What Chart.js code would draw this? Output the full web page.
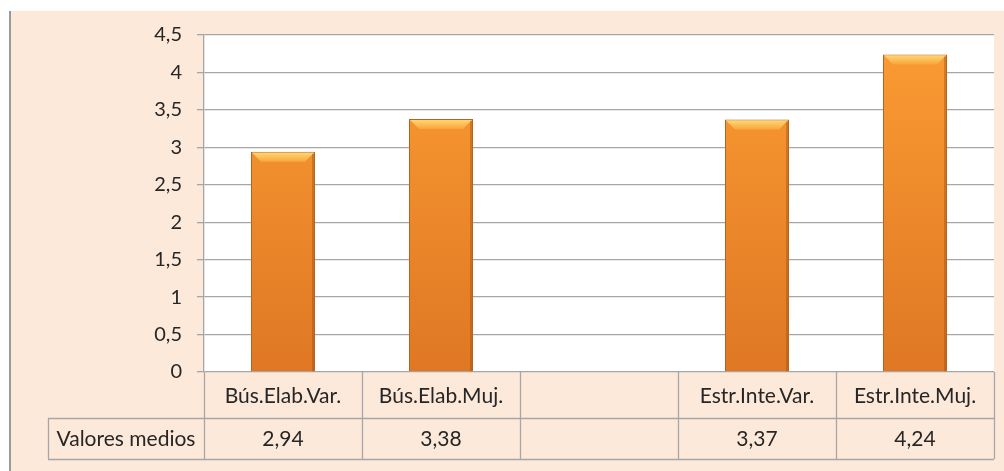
<!DOCTYPE html>
<html>
<head>
<meta charset="utf-8">
<script src="https://cdn.jsdelivr.net/npm/chart.js@4/dist/chart.umd.min.js"></script>
<style>
  html, body { margin: 0; padding: 0; background: #fff; }
  #wrap { width: 1004px; height: 471px; position: relative; }
</style>
</head>
<body>
<div id="wrap"><canvas id="chart" width="1004" height="471"></canvas></div>
<script>
    // datos
    var categorias = ['Bús.Elab.Var.', 'Bús.Elab.Muj.', '', 'Estr.Inte.Var.', 'Estr.Inte.Muj.'];
    var valoresMedios = [2.94, 3.38, null, 3.37, 4.24];
    var nombreSerie = 'Valores medios';
    var yTicks = [0, 0.5, 1, 1.5, 2, 2.5, 3, 3.5, 4, 4.5];

    var FONT = 'Lato, "Open Sans", sans-serif';
    var PEACH = '#FDE9DA';
    var LINE = '#A6A6A6';

    function coma(v, dec) {
        var s = dec === undefined ? String(v) : v.toFixed(dec);
        return s.replace('.', ',');
    }

    function barFill(ctx) {
        var chart = ctx.chart;
        var area = chart.chartArea;
        if (!area) {
            return '#F7962F';
        }
        var g = chart.ctx.createLinearGradient(0, area.top, 0, area.bottom);
        g.addColorStop(0, '#FB9C33');
        g.addColorStop(1, '#DF7724');
        return g;
    }

    // fondo, marco y tabla de datos
    var decoPlugin = {
        id: 'deco',
        beforeDraw: function (chart) {
            var c = chart.ctx;
            var a = chart.chartArea;
            c.save();
            c.fillStyle = '#fff';
            c.fillRect(0, 0, chart.width, chart.height);
            c.fillStyle = PEACH;
            c.fillRect(10, 11, chart.width - 10, chart.height - 11);
            c.fillStyle = '#9a9a9a';
            c.fillRect(9, 11, 2, chart.height - 11);
            c.fillStyle = '#fff';
            c.fillRect(a.left, a.top, a.right - a.left, a.bottom - a.top);
            c.restore();
        },
        afterDatasetsDraw: function (chart) {
            // bisel superior de las barras
            var c = chart.ctx;
            var meta = chart.getDatasetMeta(0);
            c.save();
            meta.data.forEach(function (bar, i) {
                if (valoresMedios[i] == null) {
                    return;
                }
                var half = bar.width / 2;
                var l = bar.x - half, r = bar.x + half, t = bar.y, b = bar.base;
                var bv = 10;
                var g = c.createLinearGradient(0, t, 0, t + bv);
                g.addColorStop(0, '#FFDD77');
                g.addColorStop(1, '#FBA43B');
                c.fillStyle = g;
                c.beginPath();
                c.moveTo(l + 1, t + 1);
                c.lineTo(r - 1, t + 1);
                c.lineTo(r - bv, t + bv);
                c.lineTo(l + bv, t + bv);
                c.closePath();
                c.fill();
                c.fillStyle = 'rgba(140,70,10,0.35)';
                c.fillRect(r - 3, t + 2, 2, b - t - 2);
            });
            c.restore();
        },
        afterDraw: function (chart) {
            var c = chart.ctx;
            var a = chart.chartArea;
            var x = chart.scales.x;
            var n = categorias.length;
            var step = (a.right - a.left) / n;
            var row1 = a.bottom + 46;
            var row2 = a.bottom + 87;
            var labelLeft = 48;

            c.save();
            c.strokeStyle = LINE;
            c.lineWidth = 1.3;
            c.beginPath();
            // líneas horizontales
            c.moveTo(labelLeft, row1 + 0.5);
            c.lineTo(a.right, row1 + 0.5);
            c.moveTo(labelLeft, row2 + 0.5);
            c.lineTo(a.right, row2 + 0.5);
            // verticales
            for (var i = 0; i <= n; i++) {
                var px = Math.round(a.left + step * i) + 0.5;
                c.moveTo(px, a.bottom);
                c.lineTo(px, row2);
            }
            c.moveTo(labelLeft + 0.5, row1);
            c.lineTo(labelLeft + 0.5, row2);
            c.stroke();

            c.fillStyle = '#262626';
            c.font = '21px ' + FONT;
            c.textAlign = 'center';
            c.textBaseline = 'middle';
            categorias.forEach(function (cat, i) {
                var cx = x.getPixelForValue(i);
                c.fillText(cat, cx, (a.bottom + row1) / 2 + 1);
                if (valoresMedios[i] != null) {
                    c.fillText(coma(valoresMedios[i], 2), cx, (row1 + row2) / 2 + 1);
                }
            });
            c.fillText(nombreSerie, (labelLeft + a.left) / 2, (row1 + row2) / 2 + 1);
            c.restore();
        }
    };

    new Chart(document.getElementById('chart'), {
        type: 'bar',
        data: {
            labels: categorias,
            datasets: [{
                label: nombreSerie,
                data: valoresMedios,
                backgroundColor: barFill,
                borderColor: '#B9621D',
                borderWidth: 1,
                barPercentage: 0.405,
                categoryPercentage: 1
            }]
        },
        options: {
            responsive: false,
            animation: false,
            devicePixelRatio: 1,
            layout: { padding: { left: 0, top: 35, right: 10, bottom: 91 } },
            plugins: {
                legend: { display: false },
                tooltip: { enabled: false }
            },
            scales: {
                x: {
                    ticks: { display: false },
                    grid: { display: false },
                    border: { display: false }
                },
                y: {
                    min: 0,
                    max: 4.5,
                    afterFit: function (scale) { scale.width = 204; },
                    afterBuildTicks: function (scale) {
                        scale.ticks = yTicks.map(function (v) { return { value: v }; });
                    },
                    ticks: {
                        color: '#262626',
                        font: { family: FONT, size: 20 },
                        padding: 15,
                        callback: function (v) { return coma(v); }
                    },
                    grid: { color: LINE, tickLength: 7, lineWidth: 1.3 },
                    border: { color: LINE, width: 1.3 }
                }
            }
        },
        plugins: [decoPlugin]
    });
</script>
</body>
</html>
